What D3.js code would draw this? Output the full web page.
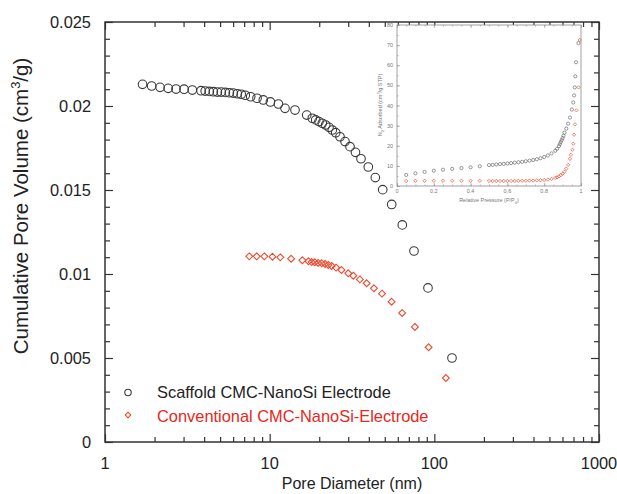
<!DOCTYPE html>
<html>
<head>
<meta charset="utf-8">
<script src="https://cdn.jsdelivr.net/npm/d3@7"></script>
<style>
  body { margin: 0; background: #fff; }
  text { font-family: "Liberation Sans", Arial, sans-serif; }
</style>
</head>
<body>
<div id="chart"></div>
<script>
// main chart: pore diameter (nm) vs cumulative pore volume (cm3/g)
const scaffoldDiam = [1.69, 1.92, 2.16, 2.42, 2.70, 3.02, 3.39, 3.83, 4.06, 4.30, 4.55, 4.81, 5.08, 5.38, 5.69, 6.01, 6.36, 6.72, 7.11, 7.67, 8.38, 9.15, 10.1, 11.3, 12.39, 14.25, 16.79, 18.15, 19.04, 19.93, 20.87, 21.89, 22.93, 24.01, 25.18, 26.74, 28.68, 30.75, 33.2, 35.86, 39.72, 43.81, 48.58, 55.09, 63.89, 75.23, 91.5, 128];
const scaffoldVol = [0.02129, 0.02119, 0.02111, 0.02105, 0.02101, 0.0210, 0.02095, 0.02091, 0.02089, 0.02087, 0.02085, 0.02083, 0.02083, 0.02081, 0.02079, 0.02077, 0.02073, 0.0207, 0.02064, 0.02055, 0.02046, 0.02036, 0.02024, 0.02012, 0.01986, 0.01976, 0.01946, 0.01927, 0.01917, 0.01907, 0.01897, 0.01887, 0.01873, 0.01857, 0.01841, 0.01817, 0.01788, 0.01758, 0.01724, 0.01686, 0.01637, 0.01574, 0.01502, 0.01414, 0.01292, 0.01137, 0.00917, 0.0050];

const convDiam = [7.52, 8.34, 9.28, 10.4, 11.6, 13.5, 15.8, 17.2, 18.0, 18.8, 19.7, 20.7, 21.7, 22.7, 23.8, 25.3, 27.3, 30.0, 32.2, 35.3, 38.8, 43.0, 48.1, 55.0, 63.8, 76.2, 92.3, 117.5];
const convVol = [0.01105, 0.01105, 0.01105, 0.01103, 0.01099, 0.01091, 0.01082, 0.01076, 0.01071, 0.0107, 0.01065, 0.01064, 0.0106, 0.01054, 0.01048, 0.01038, 0.01024, 0.01004, 0.0099, 0.00968, 0.00945, 0.00915, 0.00883, 0.00835, 0.00768, 0.00685, 0.00564, 0.00381];

const xTickValues = [1, 10, 100, 1000];
const yTickValues = [0, 0.005, 0.01, 0.015, 0.02, 0.025];
const legendLabels = ["Scaffold CMC-NanoSi Electrode", "Conventional CMC-NanoSi-Electrode"];

// inset: N2 isotherm, relative pressure vs adsorbed volume
const insetScaffoldP = [0.05, 0.10, 0.15, 0.20, 0.25, 0.30, 0.35, 0.40, 0.45, 0.50, 0.52, 0.54, 0.56, 0.58, 0.60, 0.62, 0.64, 0.66, 0.68, 0.70, 0.72, 0.74, 0.76, 0.78, 0.80, 0.82, 0.84, 0.86, 0.87, 0.88, 0.885, 0.89, 0.895, 0.90, 0.905, 0.91, 0.92, 0.93, 0.94, 0.95, 0.958, 0.962, 0.966, 0.969, 0.973, 0.986];
const insetScaffoldV = [5.5, 6.3, 7.0, 7.6, 8.1, 8.5, 8.9, 9.3, 9.8, 10.4, 10.5, 10.7, 10.9, 11.0, 11.2, 11.4, 11.6, 11.8, 12.0, 12.3, 12.6, 12.9, 13.3, 13.8, 14.4, 15.2, 16.2, 17.5, 18.5, 19.8, 20.8, 21.8, 22.8, 23.8, 25.0, 26.5, 28.5, 31.0, 34.0, 38.0, 41.5, 45.0, 49.0, 54.5, 61.5, 71.0];
const insetConvP = [0.05, 0.10, 0.15, 0.20, 0.25, 0.30, 0.35, 0.40, 0.45, 0.50, 0.52, 0.54, 0.56, 0.58, 0.60, 0.62, 0.64, 0.66, 0.68, 0.70, 0.72, 0.74, 0.76, 0.78, 0.80, 0.82, 0.84, 0.86, 0.87, 0.88, 0.89, 0.90, 0.91, 0.92, 0.93, 0.94, 0.945, 0.953, 0.958, 0.962, 0.967, 0.975, 0.987, 0.993];
const insetConvV = [2.5, 2.6, 2.6, 2.6, 2.6, 2.6, 2.6, 2.6, 2.6, 2.5, 2.5, 2.5, 2.5, 2.5, 2.5, 2.5, 2.5, 2.6, 2.6, 2.6, 2.7, 2.7, 2.8, 2.9, 3.0, 3.2, 3.5, 4.0, 4.3, 4.8, 5.4, 6.1, 7.1, 8.6, 10.5, 13.5, 15.5, 18.0, 21.0, 25.5, 30.6, 37.6, 49.0, 72.6];
const insetXTicks = [0, 0.2, 0.4, 0.6, 0.8, 1];
const insetYTicks = [0, 10, 20, 30, 40, 50, 60, 70, 80];

const W = 617, H = 494;
const m = { left: 105, right: 599, top: 22, bottom: 442 };
const frameCol = "#333";
const blackCol = "#3a3a3a";
const redCol = "#ee4a2e";
const fs = 16.4;

let svg = d3.select("#chart").append("svg")
  .attr("width", W)
  .attr("height", H);

let x = d3.scaleLog().domain([1, 1000]).range([m.left, m.right]);
let y = d3.scaleLinear().domain([0, 0.025]).range([m.bottom, m.top]);

// minor tick values
let xMinor = [];
[1, 10, 100].forEach(d => { for (let k = 2; k <= 9; k++) xMinor.push(d * k); });
let yMinor = d3.range(1, 25).map(i => i / 1000).filter(v => Math.round(v * 1000) % 5 !== 0);

// ticks drawn inward on all four sides
function inward(axisFn, scale, vals, len) {
  return axisFn(scale).tickValues(vals).tickSize(-len).tickFormat("");
}
let g = svg.append("g");
g.append("g").attr("transform", `translate(0,${m.bottom})`).call(inward(d3.axisBottom, x, xTickValues, 8));
g.append("g").attr("transform", `translate(0,${m.bottom})`).call(inward(d3.axisBottom, x, xMinor, 5));
g.append("g").attr("transform", `translate(0,${m.top})`).call(inward(d3.axisTop, x, xTickValues, 8));
g.append("g").attr("transform", `translate(0,${m.top})`).call(inward(d3.axisTop, x, xMinor, 5));
g.append("g").attr("transform", `translate(${m.left},0)`).call(inward(d3.axisLeft, y, yTickValues, 8));
g.append("g").attr("transform", `translate(${m.left},0)`).call(inward(d3.axisLeft, y, yMinor, 5));
g.append("g").attr("transform", `translate(${m.right},0)`).call(inward(d3.axisRight, y, yTickValues, 8));
g.append("g").attr("transform", `translate(${m.right},0)`).call(inward(d3.axisRight, y, yMinor, 5));
g.selectAll(".domain").remove();
g.selectAll(".tick line").attr("stroke", frameCol).attr("stroke-width", 1.2);

svg.append("rect")
  .attr("x", m.left).attr("y", m.top)
  .attr("width", m.right - m.left).attr("height", m.bottom - m.top)
  .attr("fill", "none").attr("stroke", frameCol).attr("stroke-width", 1.5);

// tick labels
svg.append("g").selectAll("text")
  .data(xTickValues).enter().append("text")
  .attr("x", d => x(d)).attr("y", m.bottom + 27)
  .attr("text-anchor", "middle").attr("font-size", fs).attr("fill", "#222")
  .text(d => d);
svg.append("g").selectAll("text")
  .data(yTickValues).enter().append("text")
  .attr("x", m.left - 14).attr("y", d => y(d) + 6)
  .attr("text-anchor", "end").attr("font-size", fs).attr("fill", "#222")
  .text(d => d === 0 ? "0" : String(d));

// axis titles
svg.append("text")
  .attr("x", 352).attr("y", 489)
  .attr("text-anchor", "middle").attr("font-size", 16).attr("fill", "#222")
  .text("Pore Diameter (nm)");
let yt = svg.append("text")
  .attr("transform", "translate(28,206) rotate(-90)")
  .attr("text-anchor", "middle").attr("font-size", 20.5).attr("fill", "#222");
yt.append("tspan").text("Cumulative Pore Volume (cm");
yt.append("tspan").attr("font-size", 13).attr("dy", -8).text("3");
yt.append("tspan").attr("dy", 8).text("/g)");

// inset
let ix = d3.scaleLinear().domain([0, 1]).range([397, 581]);
let iy = d3.scaleLinear().domain([0, 80]).range([186, 25]);
let inset = svg.append("g");
inset.append("rect")
  .attr("x", 397).attr("y", 25).attr("width", 184).attr("height", 161)
  .attr("fill", "#fff").attr("stroke", "#8a8a8a").attr("stroke-width", 0.8);
let ixMinor = d3.range(0, 21).map(i => i / 20);
let iyMinor = d3.range(0, 17).map(i => i * 5);
let ig = inset.append("g");
ig.append("g").attr("transform", "translate(0,186)").call(inward(d3.axisBottom, ix, insetXTicks, 3));
ig.append("g").attr("transform", "translate(0,186)").call(inward(d3.axisBottom, ix, ixMinor, 1.5));
ig.append("g").attr("transform", "translate(0,25)").call(inward(d3.axisTop, ix, insetXTicks, 3));
ig.append("g").attr("transform", "translate(0,25)").call(inward(d3.axisTop, ix, ixMinor, 1.5));
ig.append("g").attr("transform", "translate(397,0)").call(inward(d3.axisLeft, iy, insetYTicks, 3));
ig.append("g").attr("transform", "translate(397,0)").call(inward(d3.axisLeft, iy, iyMinor, 1.5));
ig.selectAll(".domain").remove();
ig.selectAll(".tick line").attr("stroke", "#8a8a8a").attr("stroke-width", 0.6);

inset.append("g").selectAll("text")
  .data(insetXTicks).enter().append("text")
  .attr("x", d => ix(d)).attr("y", 193)
  .attr("text-anchor", "middle").attr("font-size", 5.5).attr("fill", "#777")
  .text(d => d);
inset.append("g").selectAll("text")
  .data(insetYTicks).enter().append("text")
  .attr("x", 393).attr("y", d => iy(d) + 2)
  .attr("text-anchor", "end").attr("font-size", 5.5).attr("fill", "#777")
  .text(d => d);
let ixl = inset.append("text")
  .attr("x", 489).attr("y", 202)
  .attr("text-anchor", "middle").attr("font-size", 5.5).attr("fill", "#777");
ixl.append("tspan").text("Relative Pressure (P/P");
ixl.append("tspan").attr("font-size", 4).attr("dy", 1.5).text("0");
ixl.append("tspan").attr("dy", -1.5).text(")");
let iyl = inset.append("text")
  .attr("transform", "translate(382,105) rotate(-90)")
  .attr("text-anchor", "middle").attr("font-size", 5.5).attr("fill", "#777");
iyl.append("tspan").text("N");
iyl.append("tspan").attr("font-size", 4).attr("dy", 1.5).text("2");
iyl.append("tspan").attr("dy", -1.5).text(" Adsorbed (cm");
iyl.append("tspan").attr("font-size", 4).attr("dy", -2).text("3");
iyl.append("tspan").attr("dy", 2).text("/g STP)");

inset.append("g").selectAll("circle")
  .data(d3.zip(insetScaffoldP, insetScaffoldV)).enter().append("circle")
  .attr("cx", d => ix(d[0])).attr("cy", d => iy(d[1])).attr("r", 1.6)
  .attr("fill", "none").attr("stroke", "#555").attr("stroke-width", 0.6);
inset.append("g").selectAll("path")
  .data(d3.zip(insetConvP, insetConvV)).enter().append("path")
  .attr("transform", d => `translate(${ix(d[0])},${iy(d[1])})`)
  .attr("d", d3.symbol(d3.symbolDiamond2, 7))
  .attr("fill", "none").attr("stroke", redCol).attr("stroke-width", 0.7);

// main series
svg.append("g").selectAll("circle")
  .data(d3.zip(scaffoldDiam, scaffoldVol)).enter().append("circle")
  .attr("cx", d => x(d[0])).attr("cy", d => y(d[1])).attr("r", 4.3)
  .attr("fill", "none").attr("stroke", blackCol).attr("stroke-width", 1.1);
svg.append("g").selectAll("path")
  .data(d3.zip(convDiam, convVol)).enter().append("path")
  .attr("transform", d => `translate(${x(d[0])},${y(d[1])})`)
  .attr("d", d3.symbol(d3.symbolDiamond2, 30))
  .attr("fill", "none").attr("stroke", redCol).attr("stroke-width", 1.1);

// legend
let lg = svg.append("g");
lg.append("circle").attr("cx", 128).attr("cy", 392.5).attr("r", 3.2)
  .attr("fill", "none").attr("stroke", blackCol).attr("stroke-width", 1.1);
lg.append("path").attr("transform", "translate(128,415)")
  .attr("d", d3.symbol(d3.symbolDiamond2, 20))
  .attr("fill", "none").attr("stroke", redCol).attr("stroke-width", 1.1);
lg.append("text").attr("x", 157).attr("y", 397.5).attr("font-size", fs).attr("fill", "#222")
  .text(legendLabels[0]);
lg.append("text").attr("x", 157).attr("y", 421.5).attr("font-size", fs).attr("fill", "#e8261c")
  .text(legendLabels[1]);
</script>
</body>
</html>
